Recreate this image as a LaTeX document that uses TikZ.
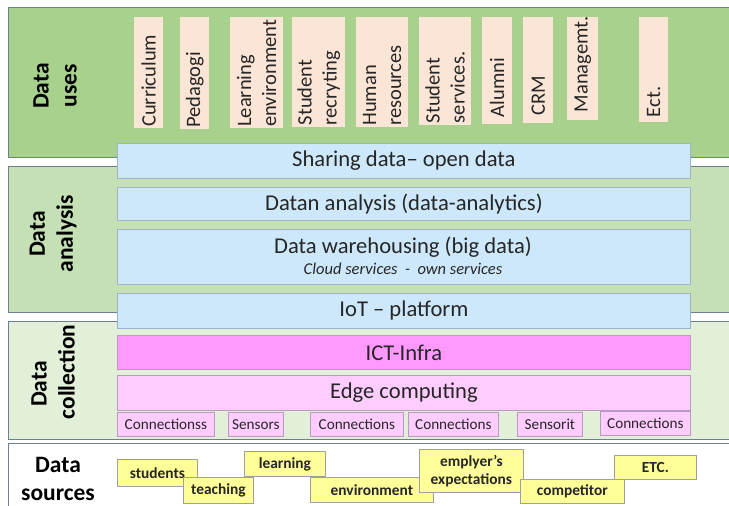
\documentclass[tikz,border=0pt]{standalone}
\usepackage{fontspec}
\setmainfont{Carlito}
\definecolor{usesG}{HTML}{A9D18E}
\definecolor{anaG}{HTML}{C5E0B4}
\definecolor{colG}{HTML}{E2F0D9}
\definecolor{bandline}{HTML}{6D7F92}
\definecolor{blueF}{HTML}{CDE8FA}
\definecolor{blueD}{HTML}{9CB3C9}
\definecolor{ictF}{HTML}{FF99FF}
\definecolor{edgeF}{HTML}{FFCCFF}
\definecolor{pinkD}{HTML}{B89AC0}
\definecolor{peachF}{HTML}{FBE5D6}
\definecolor{yelF}{HTML}{FFFF99}
\definecolor{yelD}{HTML}{A0A0A0}
\definecolor{txt}{HTML}{262626}
\begin{document}
\begin{tikzpicture}[x=1pt,y=-1pt,
  band/.style={draw=bandline, line width=1.2pt, anchor=north west, inner sep=0pt},
  bandlabel/.style={font=\bfseries\fontsize{23.5}{28}\selectfont, text=black, align=center, inner sep=0pt},
  bigbox/.style={line width=0.8pt, anchor=north west, inner sep=0pt, text=txt, font=\fontsize{22.6}{26}\selectfont, align=center},
  bluebox/.style={bigbox, draw=blueD, fill=blueF},
  ictbox/.style={bigbox, draw=pinkD, fill=ictF},
  edgebox/.style={bigbox, draw=pinkD, fill=edgeF},
  connbox/.style={draw=pinkD, fill=edgeF, line width=0.8pt, anchor=north west, inner sep=0pt, text=txt, font=\fontsize{15.2}{18}\selectfont},
  usebox/.style={fill=peachF, anchor=north west, inner sep=0pt},
  usetext/.style={rotate=90, anchor=west, align=left, inner sep=0pt, text=txt, font=\fontsize{20.5}{25}\selectfont},
  srcbox/.style={draw=yelD, fill=yelF, line width=0.8pt, anchor=north west, inner sep=0pt, text=txt, align=center, font=\bfseries\fontsize{15.4}{18}\selectfont}
]
\useasboundingbox (0,0) rectangle (729,506);
\clip (0,0) rectangle (729,506);
\fill[white] (0,0) rectangle (729,506);

% bands
\node[band, fill=usesG, minimum width=800pt, minimum height=150pt] (uses) at (8,7) {};
\node[band, fill=anaG, minimum width=800pt, minimum height=146pt] (ana) at (8,166) {};
\node[band, fill=colG, minimum width=800pt, minimum height=118pt] (col) at (8,321) {};
\node[band, fill=white, minimum width=800pt, minimum height=80pt] (src) at (8,443) {};

% band labels
\node[bandlabel, rotate=90] (lUses) at (55,86) {Data\\uses};
\node[bandlabel, rotate=90] (lAna) at (53,234) {Data\\analysis};
\node[bandlabel, rotate=90] (lCol) at (53,372) {Data\hspace*{24pt}\\collection};
\node[bandlabel] (lSrc) at (58,479) {Data\\sources};

% data uses boxes
\node[usebox, minimum width=29pt, minimum height=111pt] (cur) at (134,17) {};
\node[usebox, minimum width=29pt, minimum height=112pt] (ped) at (180,17) {};
\node[usebox, minimum width=53pt, minimum height=111pt] (lea) at (230,17) {};
\node[usebox, minimum width=53pt, minimum height=110pt] (stu) at (292,17) {};
\node[usebox, minimum width=52pt, minimum height=110pt] (hum) at (356,17) {};
\node[usebox, minimum width=52pt, minimum height=108pt] (sse) at (419,17) {};
\node[usebox, minimum width=30pt, minimum height=107pt] (alu) at (482,17) {};
\node[usebox, minimum width=30pt, minimum height=106pt] (crm) at (523,17) {};
\node[usebox, minimum width=31pt, minimum height=103pt] (man) at (567,17) {};
\node[usebox, minimum width=29pt, minimum height=105pt] (ect) at (639,17) {};
\node[usetext] (tcur) at ([yshift=1.5pt]cur.south) {Curriculum};
\node[usetext] (tped) at ([yshift=1.5pt]ped.south) {Pedagogi};
\node[usetext] (tlea) at ([yshift=1.5pt]lea.south) {Learning\\environment};
\node[usetext] (tstu) at ([yshift=2pt]stu.south) {Student\\recryting};
\node[usetext] (thum) at ([yshift=1.5pt]hum.south) {Human\\resources};
\node[usetext] (tsse) at ([yshift=2pt]sse.south) {Student\\services.};
\node[usetext] (talu) at ([yshift=7pt]alu.south) {Alumni};
\node[usetext] (tcrm) at ([yshift=8pt]crm.south) {CRM};
\node[usetext] (tman) at ([yshift=8pt]man.south) {Managemt.};
\node[usetext] (tect) at ([yshift=5pt]ect.south) {Ect.};

% layered boxes
\node[bluebox, minimum width=573pt, minimum height=35pt] (share) at (117,143) {Sharing data– open data};
\node[bluebox, minimum width=573pt, minimum height=33pt] (datan) at (117,187) {Datan analysis (data-analytics)};
\node[bluebox, minimum width=573pt, minimum height=55pt] (ware) at (117,229) {};
\node[anchor=base, inner sep=0pt, text=txt, font=\fontsize{22.6}{26}\selectfont] (ware1) at (403,253) {Data warehousing (big data)};
\node[anchor=base, inner sep=0pt, text=txt, font=\itshape\fontsize{16.5}{19}\selectfont] (ware2) at (403,274) {Cloud services~ -~ own services};
\node[bluebox, minimum width=573pt, minimum height=35pt] (iot) at (117,293) {IoT – platform};
\node[ictbox, minimum width=573pt, minimum height=34pt] (ict) at (117,335) {ICT-Infra};
\node[edgebox, minimum width=573pt, minimum height=35pt] (edge) at (117,375) {Edge computing};

% connection boxes
\node[connbox, minimum width=97pt, minimum height=24pt] (c1) at (117,412) {Connectionss};
\node[connbox, minimum width=55pt, minimum height=24pt] (s1) at (228,412) {Sensors};
\node[connbox, minimum width=93pt, minimum height=24pt] (c2) at (310,412) {Connections};
\node[connbox, minimum width=90pt, minimum height=24pt] (c3) at (408,412) {Connections};
\node[connbox, minimum width=65pt, minimum height=24pt] (s2) at (517,412) {Sensorit};
\node[connbox, minimum width=90pt, minimum height=24pt] (c4) at (600,411) {Connections};

% data sources
\node[srcbox, minimum width=80pt, minimum height=27pt] (y1) at (117,459) {students};
\node[srcbox, minimum width=70pt, minimum height=26pt] (y2) at (183,477) {teaching};
\node[srcbox, minimum width=81pt, minimum height=25pt] (y3) at (244,451) {learning};
\node[srcbox, minimum width=123pt, minimum height=25pt] (y4) at (310,477) {environment};
\node[srcbox, minimum width=104pt, minimum height=43pt] (y5) at (419,449) {emplyer’s\\expectations};
\node[srcbox, minimum width=104pt, minimum height=24pt] (y6) at (520,479) {competitor};
\node[srcbox, minimum width=82pt, minimum height=24pt] (y7) at (614,455) {ETC.};
\end{tikzpicture}
\end{document}
